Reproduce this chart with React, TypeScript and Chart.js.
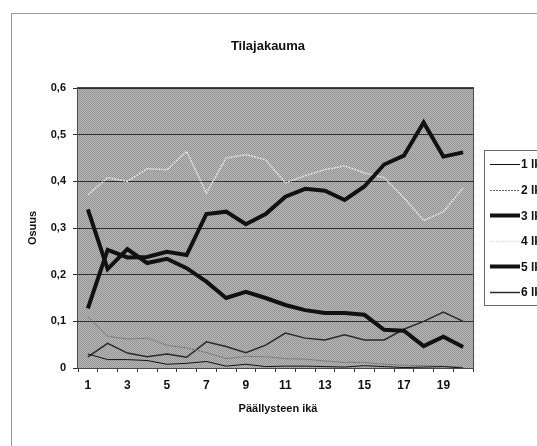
import React, { useEffect, useRef } from "react";
import { Chart, registerables } from "chart.js";

Chart.register(...registerables);

const ages = ["1", "2", "3", "4", "5", "6", "7", "8", "9", "10", "11", "12", "13", "14", "15", "16", "17", "18", "19", "20"];
const yTicks = [0, 0.1, 0.2, 0.3, 0.4, 0.5, 0.6];
const seriesNames = ["1 lk", "2 lk", "3 lk", "4 lk", "5 lk", "6 lk"];

const lk1 = [0.03, 0.018, 0.018, 0.016, 0.008, 0.01, 0.014, 0.004, 0.008, 0.003, 0.004, 0.004, 0.003, 0.002, 0.005, 0.003, 0.001, 0.002, 0.003, 0.0];
const lk2 = [0.11, 0.068, 0.062, 0.064, 0.049, 0.043, 0.033, 0.02, 0.025, 0.024, 0.02, 0.019, 0.015, 0.012, 0.012, 0.008, 0.006, 0.005, 0.004, 0.002];
const lk3 = [0.128, 0.253, 0.237, 0.238, 0.249, 0.242, 0.33, 0.335, 0.308, 0.33, 0.367, 0.384, 0.38, 0.36, 0.389, 0.436, 0.455, 0.526, 0.453, 0.462];
const lk4 = [0.371, 0.408, 0.4, 0.427, 0.425, 0.464, 0.375, 0.45, 0.457, 0.446, 0.397, 0.412, 0.425, 0.433, 0.418, 0.408, 0.365, 0.316, 0.335, 0.386];
const lk5 = [0.34, 0.212, 0.255, 0.225, 0.234, 0.214, 0.185, 0.15, 0.163, 0.15, 0.135, 0.124, 0.118, 0.118, 0.114, 0.082, 0.08, 0.047, 0.067, 0.045];
const lk6 = [0.024, 0.053, 0.032, 0.024, 0.03, 0.023, 0.056, 0.046, 0.033, 0.049, 0.075, 0.064, 0.06, 0.071, 0.06, 0.06, 0.083, 0.1, 0.12, 0.1];

const lineStyles = [
  { color: "#111111", width: 1, dash: [] as number[] },
  { color: "#6a6a6a", width: 1, dash: [2, 1] },
  { color: "#111111", width: 4, dash: [] as number[] },
  { color: "#e4e4e4", width: 1.5, dash: [2, 1] },
  { color: "#111111", width: 4, dash: [] as number[] },
  { color: "#2a2a2a", width: 1.5, dash: [] as number[] },
];

const FONT = "'Liberation Sans', Arial, sans-serif";

function makePattern(ctx: CanvasRenderingContext2D) {
  const c = document.createElement("canvas");
  c.width = 2;
  c.height = 2;
  const p = c.getContext("2d")!;
  p.fillStyle = "#bababa";
  p.fillRect(0, 0, 2, 2);
  p.fillStyle = "#929292";
  p.fillRect(0, 0, 1, 1);
  p.fillRect(1, 1, 1, 1);
  return ctx.createPattern(c, "repeat");
}

const decorPlugin = {
  id: "decor",
  beforeDraw(chart: any) {
    const { ctx, chartArea: a, width, height } = chart;
    ctx.save();
    ctx.fillStyle = "#ffffff";
    ctx.fillRect(0, 0, width, height);
    ctx.strokeStyle = "#9a9a9a";
    ctx.lineWidth = 1;
    ctx.strokeRect(11.5, 13.5, width + 20, height + 20);
    ctx.fillStyle = makePattern(ctx) || "#a6a6a6";
    ctx.fillRect(a.left, a.top, a.right - a.left, a.bottom - a.top);
    ctx.restore();
  },
  afterDraw(chart: any) {
    const { ctx, chartArea: a } = chart;
    ctx.save();
    ctx.strokeStyle = "#4a4a4a";
    ctx.lineWidth = 1;
    ctx.strokeRect(a.left - 0.5, a.top - 0.5, a.right - a.left + 1, a.bottom - a.top + 1);

    ctx.fillStyle = "#111111";
    ctx.textAlign = "center";
    ctx.textBaseline = "middle";
    ctx.font = `bold 13px ${FONT}`;
    ctx.fillText("Tilajakauma", 268, 46);

    ctx.font = `bold 11px ${FONT}`;
    ctx.fillText("Päällysteen ikä", 278, 409);

    ctx.save();
    ctx.translate(33, 228);
    ctx.rotate(-Math.PI / 2);
    ctx.fillText("Osuus", 0, 0);
    ctx.restore();

    // legend box
    ctx.fillStyle = "#ffffff";
    ctx.fillRect(484, 150, 80, 155);
    ctx.strokeStyle = "#6a6a6a";
    ctx.strokeRect(484.5, 150.5, 80, 155);
    ctx.textAlign = "left";
    seriesNames.forEach((name, i) => {
      const y = 164 + i * 25.6;
      const s = lineStyles[i];
      ctx.beginPath();
      ctx.strokeStyle = s.color;
      ctx.lineWidth = s.width;
      ctx.setLineDash(s.dash);
      ctx.moveTo(490, Math.round(y) + 0.5);
      ctx.lineTo(520, Math.round(y) + 0.5);
      ctx.stroke();
      ctx.setLineDash([]);
      ctx.fillStyle = "#111111";
      ctx.font = `bold 12px ${FONT}`;
      ctx.fillText(name, 521, y + 1);
    });
    ctx.restore();
  },
};

export default function App() {
  const ref = useRef<HTMLCanvasElement>(null);

  useEffect(() => {
    const values = [lk1, lk2, lk3, lk4, lk5, lk6];
    const chart = new Chart(ref.current!, {
      type: "line",
      data: {
        labels: ages,
        datasets: values.map((v, i) => ({
          label: seriesNames[i],
          data: v,
          borderColor: lineStyles[i].color,
          borderWidth: lineStyles[i].width,
          borderDash: lineStyles[i].dash,
          pointRadius: 0,
          tension: 0,
          fill: false,
        })),
      },
      options: {
        animation: false,
        responsive: false,
        events: [],
        layout: { padding: { top: 88, right: 64, left: 0, bottom: 0 } },
        plugins: { legend: { display: false }, title: { display: false }, tooltip: { enabled: false } },
        scales: {
          x: {
            offset: true,
            grid: { offset: true, drawOnChartArea: false, drawTicks: true, tickLength: 4, color: "#333333" },
            border: { display: false },
            ticks: {
              autoSkip: false,
              maxRotation: 0,
              padding: 6,
              color: "#111111",
              font: { family: FONT, size: 12, weight: "bold" },
              callback: (_v: any, i: number) => (i % 2 === 0 ? ages[i] : ""),
            },
            afterFit: (s: any) => {
              s.height = 78;
            },
          },
          y: {
            min: yTicks[0],
            max: yTicks[yTicks.length - 1],
            afterBuildTicks: (s: any) => {
              s.ticks = yTicks.map((v) => ({ value: v }));
            },
            grid: { color: "#2e2e2e", lineWidth: 1, tickLength: 5, drawTicks: true },
            border: { display: false },
            ticks: {
              padding: 7,
              color: "#111111",
              font: { family: FONT, size: 11, weight: "bold" },
              callback: (v: any) => (v === 0 ? "0" : Number(v).toFixed(1).replace(".", ",")),
            },
            afterFit: (s: any) => {
              s.width = 78;
            },
          },
        },
      },
      plugins: [decorPlugin],
    });
    return () => chart.destroy();
  }, []);

  return (
    <div style={{ position: "fixed", left: 0, top: 0, width: 537, height: 446, background: "#fff" }}>
      <canvas ref={ref} width={537} height={446} style={{ display: "block" }} />
    </div>
  );
}
